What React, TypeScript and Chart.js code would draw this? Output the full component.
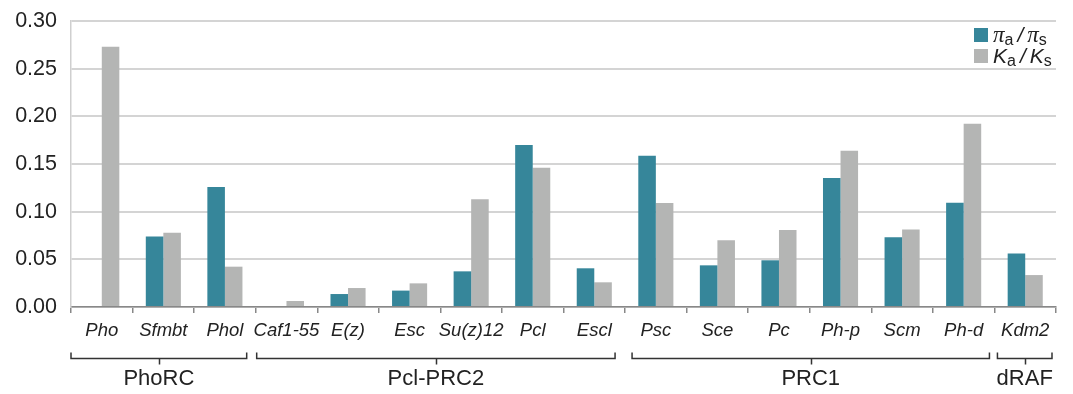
import React, { useEffect, useRef } from "react";
import { Chart, registerables } from "chart.js";

Chart.register(...registerables);

const categories = [
  "Pho", "Sfmbt", "Phol", "Caf1-55", "E(z)", "Esc", "Su(z)12", "Pcl", "Escl",
  "Psc", "Sce", "Pc", "Ph-p", "Scm", "Ph-d", "Kdm2",
];

const piRatio: (number | null)[] = [
  null, 0.074, 0.126, null, 0.0136, 0.0172, 0.0374, 0.170, 0.0406,
  0.1587, 0.0437, 0.049, 0.1352, 0.0731, 0.1094, 0.056,
];

const kRatio: number[] = [
  0.273, 0.078, 0.0423, 0.0063, 0.0199, 0.0248, 0.1129, 0.1461, 0.0259,
  0.109, 0.0699, 0.0807, 0.164, 0.0814, 0.1922, 0.0335,
];

const yTicks = [0, 0.05, 0.1, 0.15, 0.2, 0.25, 0.3];

const groupNames = ["PhoRC", "Pcl-PRC2", "PRC1", "dRAF"];
const groupStart = [0, 3, 9, 15];
const groupEnd = [2, 8, 14, 15];

const TEAL = "#36869a";
const GRAY = "#b4b5b4";
const FONT = "'Liberation Sans', Arial, sans-serif";

// per-group bracket insets (left, right) in px
const insetL = [0, 1, 7, 3];
const insetR = [9, 10, 5, 4];

const extrasPlugin = {
  id: "extras",
  afterDraw(chart: any) {
    const ctx = chart.ctx;
    const xs = chart.scales.x;
    const n = categories.length;
    const w = (xs.right - xs.left) / n;
    ctx.save();
    // group brackets
    ctx.strokeStyle = "#333";
    ctx.lineWidth = 1.5;
    ctx.fillStyle = "#222";
    ctx.font = `22px ${FONT}`;
    ctx.textAlign = "center";
    ctx.textBaseline = "middle";
    const yLine = 358.5;
    for (let g = 0; g < groupNames.length; g++) {
      const x0 = xs.left + groupStart[g] * w + insetL[g];
      const x1 = xs.left + (groupEnd[g] + 1) * w - insetR[g];
      const xm = (x0 + x1) / 2;
      ctx.beginPath();
      ctx.moveTo(x0, yLine - 6);
      ctx.lineTo(x0, yLine);
      ctx.lineTo(x1, yLine);
      ctx.lineTo(x1, yLine - 6);
      ctx.moveTo(Math.round(xm) + 0.5, yLine);
      ctx.lineTo(Math.round(xm) + 0.5, yLine + 6);
      ctx.stroke();
      ctx.fillText(groupNames[g], xm, 379);
    }
    // legend
    const lx = 974;
    const rows = [
      { color: TEAL, main: "\u03C0", serif: true, y: 28 },
      { color: GRAY, main: "K", serif: false, y: 49 },
    ];
    ctx.textAlign = "left";
    ctx.textBaseline = "alphabetic";
    for (const r of rows) {
      ctx.fillStyle = r.color;
      ctx.fillRect(lx, r.y, 14, 14);
      ctx.fillStyle = "#222";
      let x = lx + 19;
      const base = r.y + 14;
      const mainFont = r.serif
        ? `italic 23px 'Liberation Serif', 'DejaVu Serif', serif`
        : `italic 21px ${FONT}`;
      ctx.font = mainFont;
      ctx.fillText(r.main, x, base);
      x += ctx.measureText(r.main).width;
      ctx.font = `16px ${FONT}`;
      ctx.fillText("a", x, base + 3);
      x += ctx.measureText("a").width + 4;
      ctx.font = `italic 21px ${FONT}`;
      ctx.fillText("/", x, base);
      x += ctx.measureText("/").width + 4;
      ctx.font = mainFont;
      ctx.fillText(r.main, x, base);
      x += ctx.measureText(r.main).width;
      ctx.font = `16px ${FONT}`;
      ctx.fillText("s", x, base + 3);
    }
    ctx.restore();
  },
};

export default function App() {
  const ref = useRef<HTMLCanvasElement>(null);
  useEffect(() => {
    document.body.style.margin = "0";
    const chart = new Chart(ref.current!, {
      type: "bar",
      data: {
        labels: categories,
        datasets: [
          {
            label: "\u03C0a / \u03C0s",
            data: piRatio,
            backgroundColor: TEAL,
            categoryPercentage: 0.57,
            barPercentage: 1,
          },
          {
            label: "Ka / Ks",
            data: kRatio,
            backgroundColor: GRAY,
            categoryPercentage: 0.57,
            barPercentage: 1,
          },
        ],
      },
      options: {
        animation: false,
        responsive: false,
        maintainAspectRatio: false,
        layout: { padding: { left: 0, top: 21, right: 17, bottom: 0 } },
        plugins: {
          legend: { display: false },
          tooltip: { enabled: false },
        },
        scales: {
          x: {
            offset: true,
            grid: {
              display: true,
              drawOnChartArea: false,
              drawTicks: true,
              tickLength: 6,
              color: "#888",
              lineWidth: 1.5,
              offset: true,
            },
            border: { display: true, color: "#888", width: 1.5 },
            ticks: {
              color: "#222",
              font: { family: FONT, size: 18.5, style: "italic" },
              padding: 7,
              maxRotation: 0,
              autoSkip: false,
            },
            afterFit(scale: any) {
              scale.height = 87;
            },
          },
          y: {
            min: 0,
            max: 0.3,
            afterBuildTicks(scale: any) {
              scale.ticks = yTicks.map((v) => ({ value: v }));
            },
            grid: {
              color: "#d4d4d4",
              lineWidth: 2,
              drawTicks: false,
            },
            border: { display: true, color: "#cfcfcf", width: 1.5 },
            ticks: {
              color: "#222",
              font: { family: FONT, size: 21.5 },
              padding: 14,
              callback: (v: any) => Number(v).toFixed(2),
            },
            afterFit(scale: any) {
              scale.width = 71;
              scale.paddingTop = 0;
              scale.paddingBottom = 0;
            },
          },
        },
      },
      plugins: [extrasPlugin],
    });
    return () => chart.destroy();
  }, []);
  return (
    <div style={{ width: 1073, height: 394 }}>
      <canvas ref={ref} width={1073} height={394} style={{ display: "block" }} />
    </div>
  );
}
